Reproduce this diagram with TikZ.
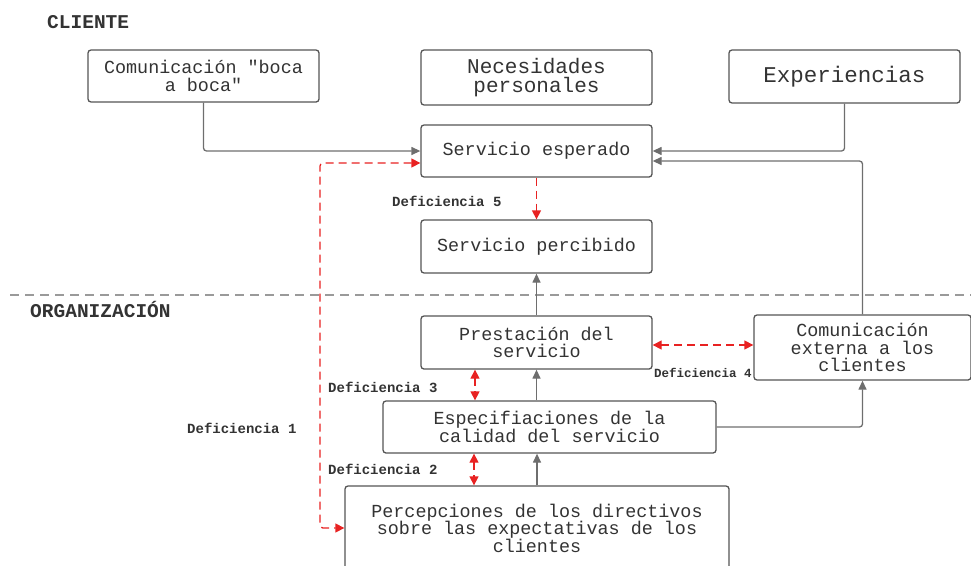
\documentclass[tikz,border=0pt]{standalone}
\usepackage{fontspec}
\usetikzlibrary{arrows.meta,calc}
\newfontfamily\mono{Liberation Mono}
\definecolor{txt}{HTML}{333333}
\definecolor{bord}{HTML}{555555}
\definecolor{conncol}{HTML}{6E6E6E}
\definecolor{sepcol}{HTML}{9A9A9A}
\definecolor{defred}{HTML}{E82222}
\tikzset{
  box/.style={draw=bord, line width=1.3pt, rounded corners=3pt, fill=white, text=txt,
    align=center, inner sep=0pt, font=\mono\fontsize{18.4}{17.5}\selectfont},
  conn/.style={draw=conncol, line width=1.3pt, rounded corners=3pt, -{Triangle[length=9pt,width=8pt]}},
  defl/.style={draw=defred, line width=1.3pt, dash pattern=on 8pt off 5pt, rounded corners=3pt},
  defa/.style={defl, {Triangle[length=9pt,width=9pt]}-{Triangle[length=9pt,width=9pt]}},
  defs/.style={defl, -{Triangle[length=9pt,width=9pt]}},
  lab/.style={text=txt, inner sep=0pt, font=\mono\bfseries\fontsize{14}{14}\selectfont},
  title/.style={text=txt, inner sep=0pt, font=\mono\bfseries\fontsize{19.5}{19.5}\selectfont}
}
\begin{document}
\begin{tikzpicture}[x=1pt,y=-1pt]
\useasboundingbox (0,0) rectangle (971,565);
\clip (0,0) rectangle (971,565);
\node[title, anchor=west] (cli) at (47,22) {CLIENTE};
\node[title, anchor=west] (org) at (30,309) {ORGANIZACIÓN};
\draw[sepcol, line width=1.3pt, dash pattern=on 9pt off 6pt] (10,295) coordinate (s1) -- (971,295) coordinate (s2);

\node[box, minimum width=231pt, minimum height=52pt] (A) at (203.5,76) {Comunicación "boca\\a boca"};
\node[box, minimum width=231pt, minimum height=55pt, font=\mono\fontsize{21}{19}\selectfont] (B) at (536.5,77.5) {Necesidades\\personales};
\node[box, minimum width=231pt, minimum height=53pt, font=\mono\fontsize{22.5}{22}\selectfont] (C) at (844.5,76.5) {Experiencias};
\node[box, minimum width=231pt, minimum height=52pt] (D) at (536.5,151) {Servicio esperado};
\node[box, minimum width=231pt, minimum height=53pt] (E) at (536.5,246.5) {Servicio percibido};
\node[box, minimum width=231pt, minimum height=53pt] (F) at (536.5,342.5) {Prestación del\\servicio};
\node[box, minimum width=217pt, minimum height=65pt] (G) at (862.5,347.5) {Comunicación\\externa a los\\clientes};
\node[box, minimum width=333pt, minimum height=52pt] (H) at (549.5,427) {Especifiaciones de la\\calidad del servicio};
\node[box, minimum width=384pt, minimum height=84pt] (I) at (537,528) {Percepciones de los directivos\\sobre las expectativas de los\\clientes};

% gray connectors
\draw[conn] (A.south) |- (D.west);
\draw[conn] (C.south) |- (D.east);
\draw[conn] (G.north) |- ([yshift=-10pt]D.east);
\draw[conn] (F.north) -- (E.south);
\draw[conn] (F.south |- H.north) -- (F.south);
\draw[conn] (I.north) -- (I.north |- H.south);
\draw[conn] (H.east) -| (G.south);

% deficiencies
\coordinate (k1) at (320,345);
\draw[defa] ([yshift=-12pt]D.west) -| (k1) |- (I.west);
\draw[defs] (D.south) -- (E.north);
\draw[defa] ([xshift=-61.5pt]F.south) -- ([xshift=-61.5pt]F.south |- H.north);
\draw[defa] ([xshift=-75.5pt]H.south) -- ([xshift=-75.5pt]H.south |- I.north);
\draw[defa] ([yshift=-2.5pt]F.east) -- ([yshift=-2.5pt]F.east -| G.west);

\node[lab, anchor=west] (d5) at (392,201) {Deficiencia 5};
\node[lab, anchor=west] (d1) at (187,428) {Deficiencia 1};
\node[lab, anchor=west] (d3) at (328,387) {Deficiencia 3};
\node[lab, anchor=west] (d2) at (328,469) {Deficiencia 2};
\node[lab, anchor=west, font=\mono\bfseries\fontsize{12.5}{12.5}\selectfont] (d4) at (654,373) {Deficiencia 4};
\end{tikzpicture}
\end{document}
